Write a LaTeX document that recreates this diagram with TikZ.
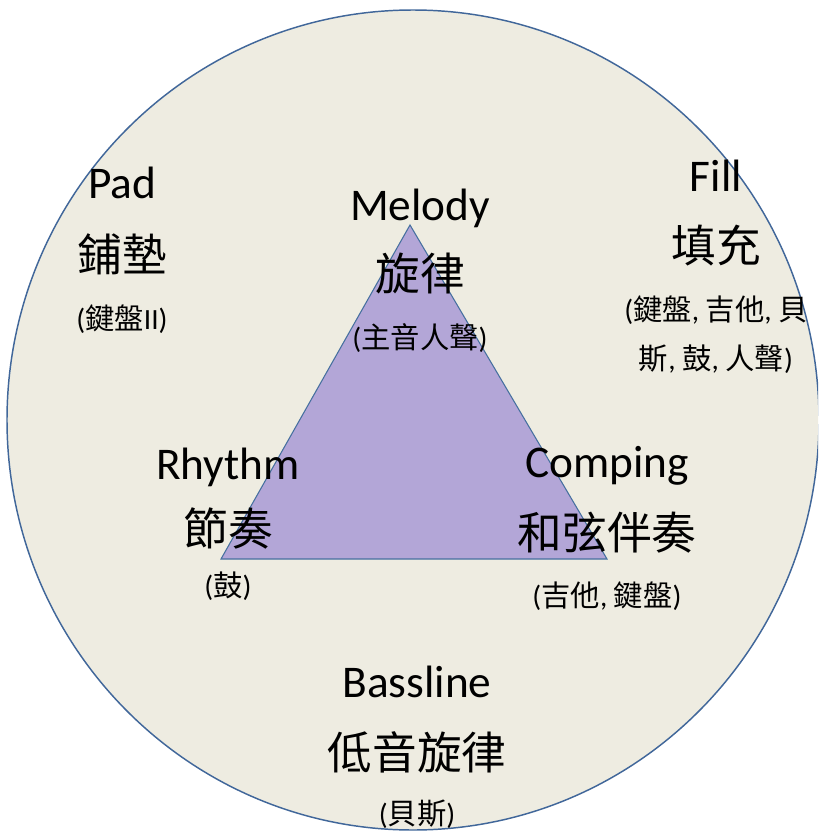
\documentclass[tikz,border=0pt]{standalone}
\usepackage{fontspec}
\setmainfont{Carlito}
\newfontfamily\cjk{Noto Sans CJK TC}
\definecolor{bgfill}{HTML}{EEECE1}
\definecolor{bgline}{HTML}{41679A}
\definecolor{trifill}{HTML}{B3A6D7}
\definecolor{triline}{HTML}{46709F}
\tikzset{
  big/.style={inner sep=0pt, font=\fontsize{34}{36}\selectfont, anchor=base},
  bigcjk/.style={inner sep=0pt, font=\fontsize{33.5}{36}\cjk},
  small/.style={inner sep=0pt, font=\fontsize{22}{24}\selectfont},
}
\newcommand{\cj}[1]{{\cjk #1}}
\begin{document}
\begin{tikzpicture}[x=0.75pt,y=-0.75pt]
\useasboundingbox (0,0) rectangle (818,832);
\begin{scope}
\clip (0,0) rectangle (818,832);
\draw[draw=bgline, line width=1.1pt, fill=bgfill] (413,420) ellipse [x radius=406, y radius=410];
\end{scope}
\coordinate (apex) at (410,225);
\coordinate (bl) at (221,559);
\coordinate (br) at (607,559);
\draw[draw=triline, line width=0.8pt, fill=trifill] (apex) -- (bl) -- (br) -- cycle;

% Pad
\node[big] (pad) at (122,198) {Pad};
\node[bigcjk] (padc) at (122,254) {鋪墊};
\node[small] (pads) at (122,319) {(\cj{鍵盤}II)};
% Melody
\node[big] (mel) at (420,220) {Melody};
\node[bigcjk] (melc) at (420,273) {旋律};
\node[small] (mels) at (420,338) {(\cj{主音人聲})};
% Fill
\node[big] (fill) at (716,191) {Fill};
\node[bigcjk] (fillc) at (716,246) {填充};
\node[small] (fills1) at (716,310) {(\cj{鍵盤}, \cj{吉他}, \cj{貝}};
\node[small] (fills2) at (716,359) {\cj{斯}, \cj{鼓}, \cj{人聲})};
% Rhythm
\node[big] (rhy) at (228,479) {Rhythm};
\node[bigcjk] (rhyc) at (228,528) {節奏};
\node[small] (rhys) at (228,586) {(\cj{鼓})};
% Comping
\node[big] (comp) at (607,477) {Comping};
\node[bigcjk] (compc) at (607,533) {和弦伴奏};
\node[small] (comps) at (607,596) {(\cj{吉他}, \cj{鍵盤})};
% Bassline
\node[big] (bass) at (417,697) {Bassline};
\node[bigcjk] (bassc) at (417,752) {低音旋律};
\node[small] (basss) at (417,814) {(\cj{貝斯})};
\end{tikzpicture}
\end{document}
